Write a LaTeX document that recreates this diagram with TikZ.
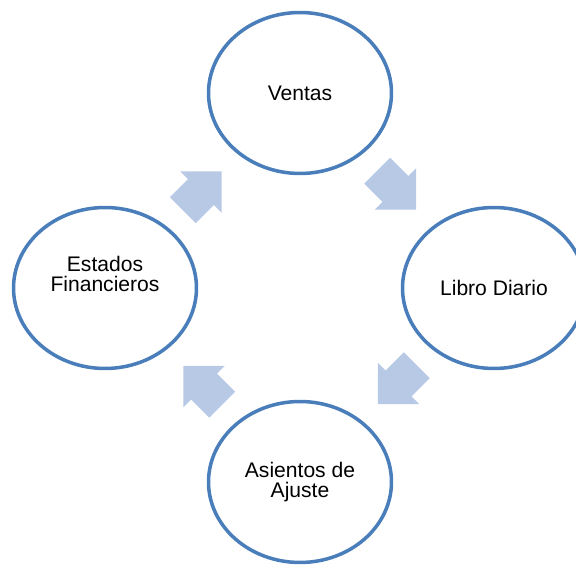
\documentclass[tikz,border=0pt]{standalone}
\usepackage{fontspec}
\setmainfont{Liberation Sans}
\usetikzlibrary{shapes.geometric,shapes.arrows,calc}
\definecolor{ringblue}{RGB}{74,126,187}
\definecolor{arrowblue}{RGB}{183,201,229}

\begin{document}
\begin{tikzpicture}[x=0.02cm, y=0.02cm, font=\fontsize{12}{11.5}\selectfont,
  ring/.style={ellipse, draw=ringblue, line width=2pt, minimum width=3.66cm, minimum height=3.22cm, align=center},
  flow/.style={single arrow, fill=arrowblue, draw=none, minimum height=1.1cm, inner xsep=0pt, inner ysep=0.36cm, single arrow head extend=0.22cm, single arrow tip angle=90, anchor=tail}]
  \useasboundingbox (0,0) rectangle (576,565);

  \node[ring] (ventas) at (300,472) {Ventas};
  \node[ring] (libro) at (494,277) {Libro Diario};
  \node[ring] (ajuste) at (300,83) {Asientos de\\Ajuste};
  \node[ring] (estados) at (105,277) {};
  \node[align=center] (estadostxt) at ([yshift=0.28cm]estados.center) {Estados\\Financieros};

  % block arrows between the rings
  \node[flow, rotate=45] (a1) at ($(estados)!0.5!(ventas)+(-20,-20)$) {};
  \node[flow, rotate=-45] (a2) at ($(ventas)!0.5!(libro)+(-20,20)$) {};
  \node[flow, rotate=-135] (a3) at ($(libro)!0.5!(ajuste)+(20,20)$) {};
  \node[flow, rotate=135] (a4) at ($(ajuste)!0.5!(estados)+(20,-20)$) {};
\end{tikzpicture}
\end{document}
